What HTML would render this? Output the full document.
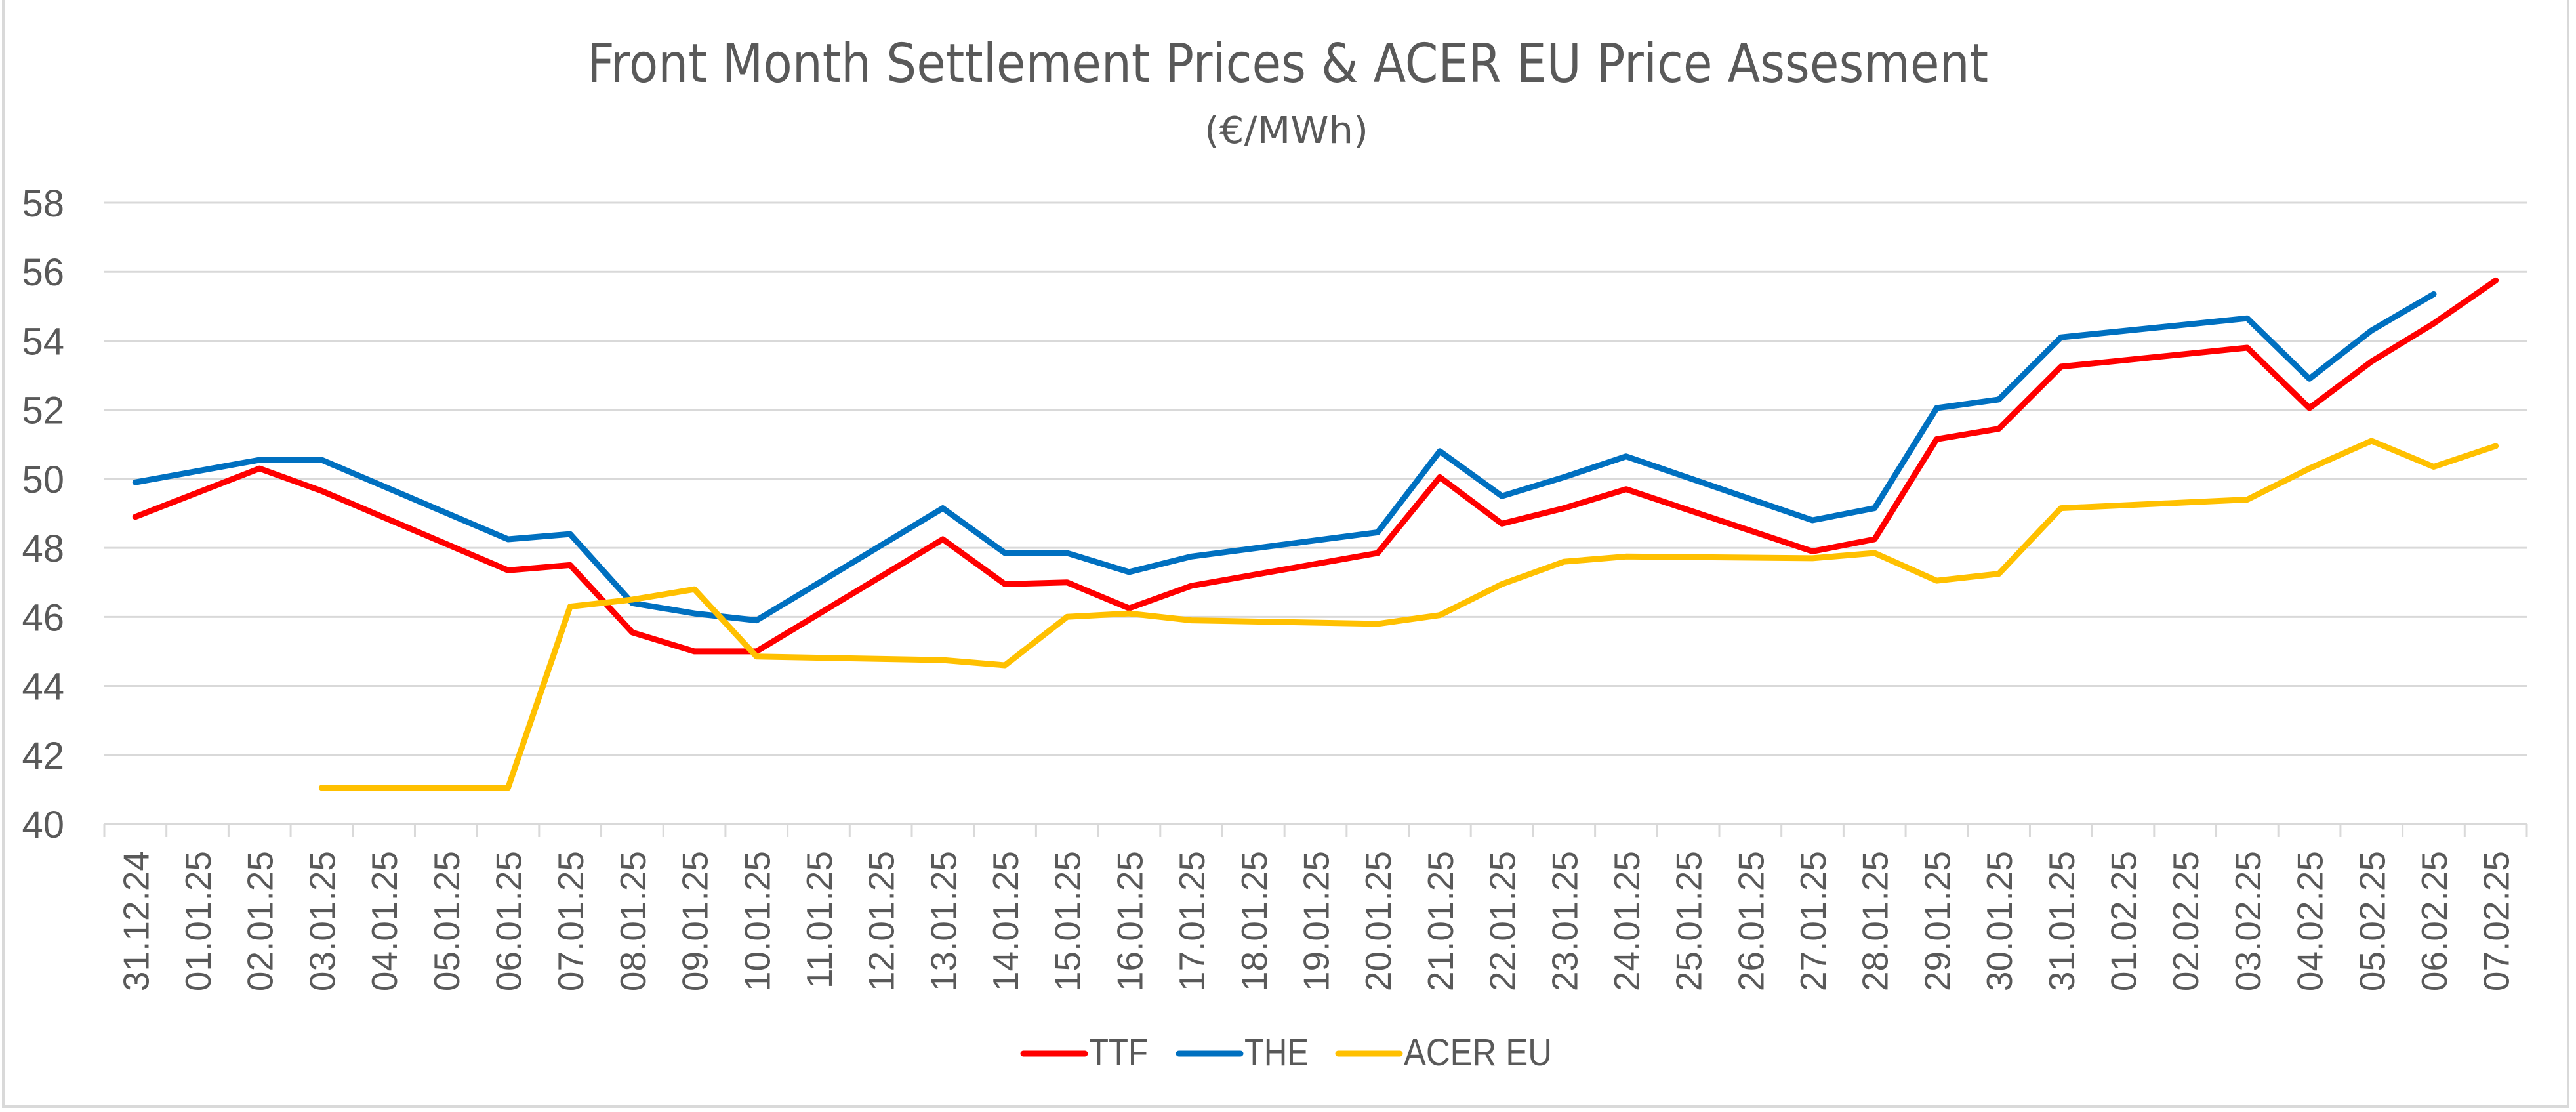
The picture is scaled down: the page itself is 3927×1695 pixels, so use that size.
<!DOCTYPE html>
<html><head><meta charset="utf-8"><style>
html,body{margin:0;padding:0;background:#fff;}
svg{display:block;font-family:"Liberation Sans",sans-serif;}
</style></head><body>
<svg id="chart" width="3927" height="1695" viewBox="0 0 3927 1695" xmlns="http://www.w3.org/2000/svg">
<rect x="5" y="-5" width="3910" height="1692" fill="#fff" stroke="#d9d9d9" stroke-width="4"/>
<text x="1963" y="125" text-anchor="middle" font-size="82" fill="#595959" textLength="2136" lengthAdjust="spacingAndGlyphs" font-family="DejaVu Sans Condensed, Liberation Sans, sans-serif">Front Month Settlement Prices &amp; ACER EU Price Assesment</text>
<text x="1961" y="218" text-anchor="middle" font-size="56" fill="#595959" textLength="250" lengthAdjust="spacingAndGlyphs" font-family="DejaVu Sans Condensed, Liberation Sans, sans-serif">(€/MWh)</text>
<g id="grid"></g><g id="yticks"></g><g id="xticks"></g><g id="series"></g>
<g id="legend"></g>
</svg>
<script>
const categories=["31.12.24","01.01.25","02.01.25","03.01.25","04.01.25","05.01.25","06.01.25","07.01.25","08.01.25","09.01.25","10.01.25","11.01.25","12.01.25","13.01.25","14.01.25","15.01.25","16.01.25","17.01.25","18.01.25","19.01.25","20.01.25","21.01.25","22.01.25","23.01.25","24.01.25","25.01.25","26.01.25","27.01.25","28.01.25","29.01.25","30.01.25","31.01.25","01.02.25","02.02.25","03.02.25","04.02.25","05.02.25","06.02.25","07.02.25"];
const ttf=[48.9,null,50.3,49.65,null,null,47.35,47.5,45.55,45.0,45.0,null,null,48.25,46.95,47.0,46.25,46.9,null,null,47.85,50.05,48.7,49.15,49.7,null,null,47.9,48.25,51.15,51.45,53.25,null,null,53.8,52.05,53.4,54.5,55.75];
const the=[49.9,null,50.55,50.55,null,null,48.25,48.4,46.4,46.1,45.9,null,null,49.15,47.85,47.85,47.3,47.75,null,null,48.45,50.8,49.5,50.05,50.65,null,null,48.8,49.15,52.05,52.3,54.1,null,null,54.65,52.9,54.3,55.35,null];
const acer=[null,null,null,41.05,41.05,41.05,41.05,46.3,46.5,46.8,44.85,null,null,44.75,44.6,46.0,46.1,45.9,null,null,45.8,46.05,46.95,47.6,47.75,null,null,47.7,47.85,47.05,47.25,49.15,null,null,49.4,50.3,51.1,50.35,50.95];
const yTicks=[40,42,44,46,48,50,52,54,56,58];
const seriesNames=["TTF","THE","ACER EU"];

const NS="http://www.w3.org/2000/svg";
const L=159,R=3852,T=309,B=1256,YMIN=40,YMAX=58;
const step=(R-L)/categories.length;
const xPos=i=>L+step*(i+0.5);
const yPos=v=>B-(v-YMIN)/(YMAX-YMIN)*(B-T);
function mk(tag,attrs,parent){const e=document.createElementNS(NS,tag);for(const k in attrs)e.setAttribute(k,attrs[k]);parent.appendChild(e);return e;}
const grid=document.getElementById('grid'),yt=document.getElementById('yticks'),xt=document.getElementById('xticks'),sg=document.getElementById('series'),lg=document.getElementById('legend');
yTicks.forEach(v=>{
  const y=yPos(v);
  const ln=mk('line',{x1:L,x2:R,y1:y,y2:y,stroke:'#d9d9d9','stroke-width':3},grid);
  
  
  const t=mk('text',{x:98,y:y+21,'text-anchor':'end','font-size':58,fill:'#595959'},yt);
  t.textContent=v;
  
  
});
for(let i=0;i<=categories.length;i++){
  const x=L+step*i;
  const tk=mk('line',{x1:x,x2:x,y1:B,y2:B+20,stroke:'#d9d9d9','stroke-width':3},xt);
  
  
}
categories.forEach((c,i)=>{
  const x=xPos(i)+20,y=1297;
  const t=mk('text',{x:x,y:y,'text-anchor':'end','font-size':55,fill:'#595959',transform:`rotate(-90 ${x} ${y})`},xt);
  t.textContent=c;
  
  
});
const colors=["#FF0000","#0070C0","#FFC000"];
[ttf,the,acer].forEach((arr,si)=>{
  const pts=[];arr.forEach((v,i)=>{if(v!==null)pts.push(xPos(i).toFixed(1)+','+yPos(v).toFixed(1));});
  const p=mk('polyline',{points:pts.join(' '),fill:'none',stroke:colors[si],'stroke-width':9,'stroke-linejoin':'round','stroke-linecap':'round'},sg);
  
  
});
const legX=[1560,1797,2040],legW=[90,98,226];
seriesNames.forEach((n,i)=>{
  const ln=mk('line',{x1:legX[i],x2:legX[i]+94,y1:1606,y2:1606,stroke:colors[i],'stroke-width':9,'stroke-linecap':'round'},lg);
  
  
  const t=mk('text',{x:legX[i]+100,y:1624,'font-size':58,fill:'#595959',textLength:legW[i],lengthAdjust:'spacingAndGlyphs'},lg);
  t.textContent=n;
  
  
});
</script>
</body></html>
